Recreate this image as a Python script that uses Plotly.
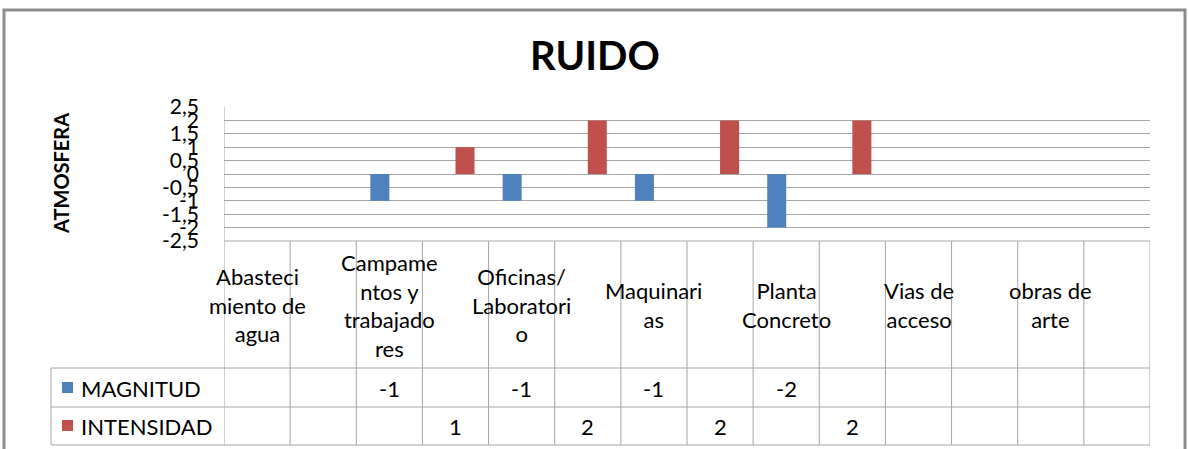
import plotly.graph_objects as go

# ---- data ----
categories = ["Abasteci<br>miento de<br>agua", "", "Campame<br>ntos y<br>trabajado<br>res", "",
              "Oficinas/<br>Laboratori<br>o", "", "Maquinari<br>as", "",
              "Planta<br>Concreto", "", "Vias de<br>acceso", "", "obras de<br>arte", ""]
magnitud = [None, None, -1, None, -1, None, -1, None, -2, None, None, None, None, None]
intensidad = [None, None, None, 1, None, 2, None, 2, None, 2, None, None, None, None]
series_names = ["MAGNITUD", "INTENSIDAD"]
series_colors = ["#4F81BD", "#C0504D"]
ytick_vals = [-2.5, -2, -1.5, -1, -0.5, 0, 0.5, 1, 1.5, 2, 2.5]
ytick_text = ["-2,5", "-2", "-1,5", "-1", "-0,5", "0", "0,5", "1", "1,5", "2", "2,5"]

FONT = "Lato"
W, H = 1189, 449
L, R, T, B = 224, 1150, 107, 241  # plot area pixels
GRID = "#a6a6a6"
TXT = 22


def px_x(p):
    return (p - L) / (R - L)


def px_y(p):
    return (B - p) / (B - T)


xs = list(range(len(categories)))
fig = go.Figure()
for name, vals, col in zip(series_names, [magnitud, intensidad], series_colors):
    fig.add_trace(go.Bar(x=xs, y=vals, name=name, marker=dict(color=col, line=dict(width=0)),
                         showlegend=False))

shapes = []
# outer frame
shapes.append(dict(type="rect", xref="paper", yref="paper", x0=px_x(4), x1=px_x(1185),
                   y0=px_y(470), y1=px_y(10), line=dict(color="#8c8c8c", width=3),
                   fillcolor="rgba(0,0,0,0)", layer="below"))
# table vertical lines
for i in range(len(categories) + 1):
    shapes.append(dict(type="line", xref="x", yref="paper", x0=i - 0.5, x1=i - 0.5,
                       y0=px_y(445), y1=0 if i > 0 else 1, line=dict(color=GRID, width=1)))
# table horizontal lines
shapes.append(dict(type="line", xref="paper", yref="paper", x0=0, x1=1, y0=0, y1=0,
                   line=dict(color=GRID, width=1)))
for py in [368, 407, 445]:
    shapes.append(dict(type="line", xref="paper", yref="paper", x0=px_x(51), x1=1,
                       y0=px_y(py), y1=px_y(py), line=dict(color=GRID, width=1)))
shapes.append(dict(type="line", xref="paper", yref="paper", x0=px_x(51), x1=px_x(51),
                   y0=px_y(368), y1=px_y(445), line=dict(color=GRID, width=1)))

annotations = []
# category labels
for i, c in enumerate(categories):
    if c:
        annotations.append(dict(x=i, xref="x", y=px_y(305), yref="paper", text=c,
                                showarrow=False, xanchor="center", yanchor="middle",
                                font=dict(family=FONT, size=TXT, color="#000")))
# data table values + legend keys
row_y = [388, 426]
for name, vals, col, ry in zip(series_names, [magnitud, intensidad], series_colors, row_y):
    for i, v in enumerate(vals):
        if v is not None:
            annotations.append(dict(x=i, xref="x", y=px_y(ry), yref="paper", text=str(v),
                                    showarrow=False, xanchor="center", yanchor="middle",
                                    font=dict(family=FONT, size=TXT, color="#000")))
    shapes.append(dict(type="rect", xref="paper", yref="paper", x0=px_x(62), x1=px_x(73),
                       y0=px_y(ry + 5), y1=px_y(ry - 6), fillcolor=col, line=dict(width=0)))
    annotations.append(dict(x=px_x(79), xref="paper", y=px_y(ry), yref="paper", text=name,
                            showarrow=False, xanchor="left", yanchor="middle",
                            font=dict(family=FONT, size=TXT, color="#000")))
# y-axis title
annotations.append(dict(x=px_x(61), xref="paper", y=px_y(174), yref="paper", text="<b>ATMOSFERA</b>",
                        showarrow=False, textangle=-90, xanchor="center", yanchor="middle",
                        font=dict(family=FONT, size=20, color="#000")))
# chart title
annotations.append(dict(x=px_x(595), xref="paper", y=px_y(55), yref="paper", text="<b>RUIDO</b>",
                        showarrow=False, xanchor="center", yanchor="middle",
                        font=dict(family=FONT, size=40, color="#000")))

fig.update_layout(
    width=W, height=H, margin=dict(l=L, r=W - R, t=T, b=H - B, autoexpand=False),
    paper_bgcolor="white", plot_bgcolor="white",
    barmode="group", bargap=0.425, bargroupgap=0,
    shapes=shapes, annotations=annotations,
    xaxis=dict(range=[-0.5, len(categories) - 0.5], showticklabels=False, showgrid=False,
               zeroline=False, showline=False, ticks=""),
    yaxis=dict(range=[-2.5, 2.5], tickvals=ytick_vals, ticktext=ytick_text,
               showgrid=True, gridcolor=GRID, gridwidth=1, zeroline=False,
               showline=False, ticks="", ticklabelstandoff=24,
               tickfont=dict(family=FONT, size=21, color="#000")),
)

fig.write_html("out.html", config={"displayModeBar": False},
               post_script="document.body.style.margin='0';document.body.style.overflow='hidden';")
